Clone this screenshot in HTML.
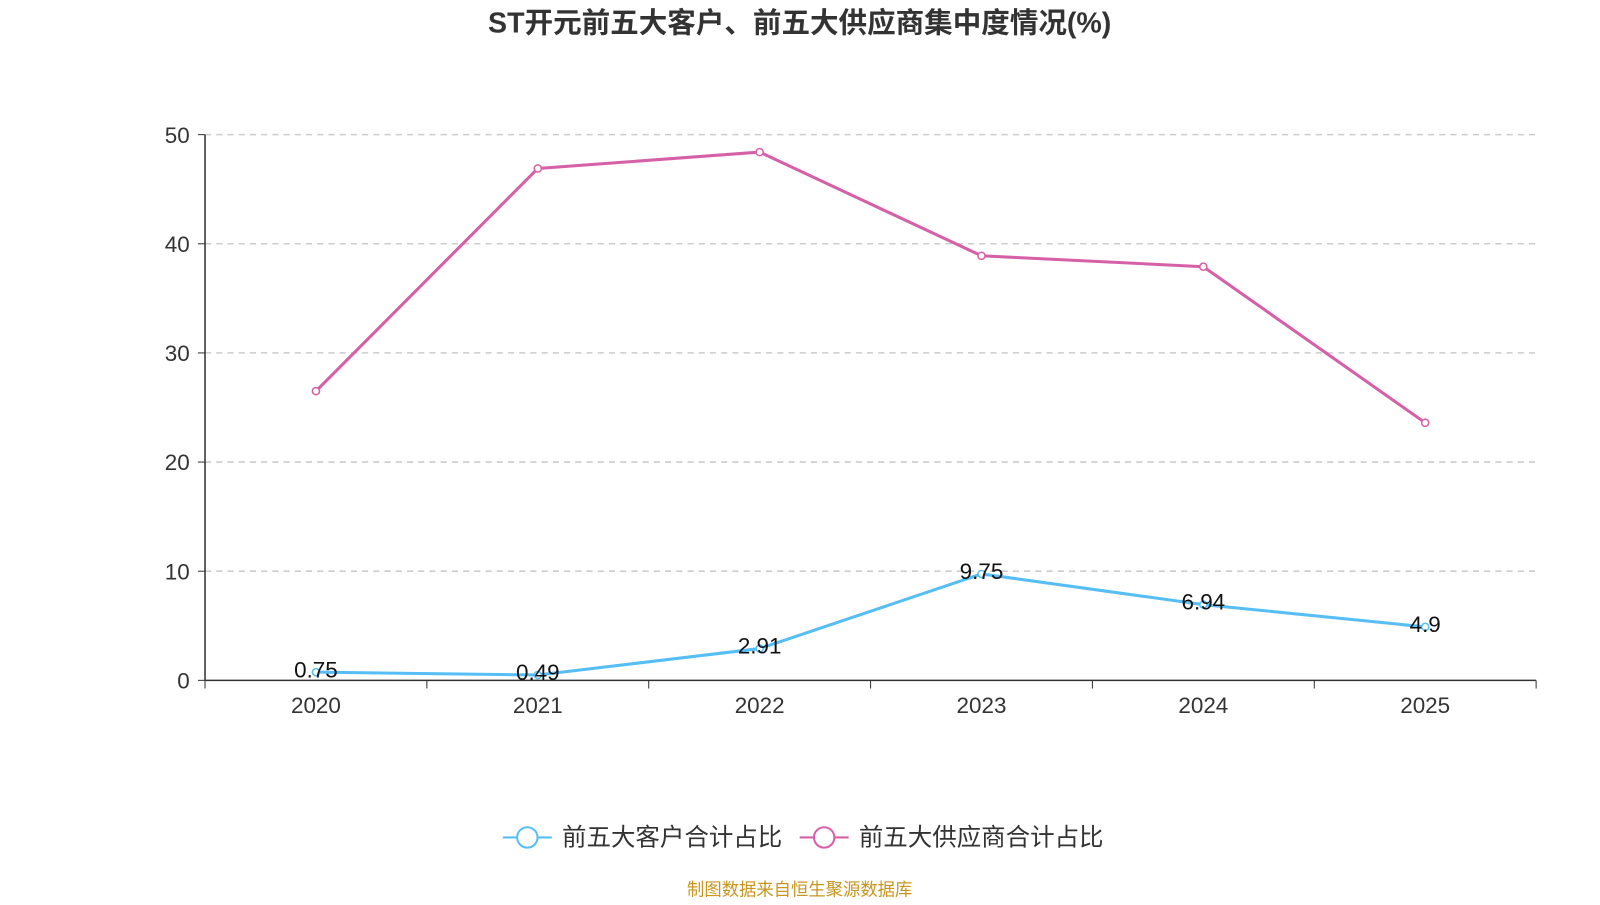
<!DOCTYPE html>
<html><head><meta charset="utf-8"><style>
body{margin:0;background:#fff;width:1600px;height:900px;overflow:hidden;font-family:"Liberation Sans","Noto Sans CJK SC",sans-serif;}
</style></head><body>
<svg width="1600" height="900" id="c" font-family="Liberation Sans, Noto Sans CJK SC, sans-serif">
<g transform="scale(1.02)">
<text x="784" y="32" text-anchor="middle" font-size="28" font-weight="bold" fill="#333">ST开元前五大客户、前五大供应商集中度情况(%)</text>
<g id="grid"></g><g id="axes"></g><g id="series"></g>
<g>
<g>
<line x1="493" y1="821" x2="541" y2="821" stroke="#56bef5" stroke-width="2"/>
<circle cx="517" cy="821" r="10" fill="#fff" stroke="#56bef5" stroke-width="2"/>
<text x="551" y="829" font-size="24" fill="#333">前五大客户合计占比</text></g>
<g>
<line x1="784" y1="821" x2="832" y2="821" stroke="#d660a8" stroke-width="2"/>
<circle cx="808" cy="821" r="10" fill="#fff" stroke="#d660a8" stroke-width="2"/>
<text x="842" y="829" font-size="24" fill="#333">前五大供应商合计占比</text></g>
</g>
<text x="784" y="878" text-anchor="middle" font-size="17" fill="#c8961e">制图数据来自恒生聚源数据库</text>
</g>
</svg>
<script>
const categories=["2020","2021","2022","2023","2024","2025"];
const customerValues=[0.75,0.49,2.91,9.75,6.94,4.9];
const supplierValues=[26.5,46.9,48.4,38.9,37.9,23.6];
const yTicks=[0,10,20,30,40,50];
const NS="http://www.w3.org/2000/svg";
const x0=201,x1=1506,y0=667,yTop=132,yMax=50;
const bw=(x1-x0)/categories.length;
const xs=i=>x0+bw*(i+0.5);
const ys=v=>y0-(v/yMax)*(y0-yTop);
function mk(tag,attrs,parent){const e=document.createElementNS(NS,tag);for(const k in attrs)e.setAttribute(k,attrs[k]);document.getElementById(parent).appendChild(e);return e;}
yTicks.forEach(t=>{
  const y=ys(t);
  if(t>0){const g=mk('line',{x1:x0,x2:x1,y1:y,y2:y,stroke:'#ccc','stroke-dasharray':'6,5','stroke-width':1.5},'grid');
  
  }
  const tk=mk('line',{x1:x0-7,x2:x0,y1:y,y2:y,stroke:'#333'},'axes');
  
  
  const l=mk('text',{x:x0-15,y:y+8,'text-anchor':'end','font-size':22,fill:'#333'},'axes');
  l.textContent=t;
  
  
});
const ya=mk('line',{x1:x0,x2:x0,y1:yTop,y2:y0,stroke:'#333','stroke-width':1.5},'axes');


const xa=mk('line',{x1:x0,x2:x1,y1:y0,y2:y0,stroke:'#333','stroke-width':1.5},'axes');


for(let i=0;i<=categories.length;i++){
  const t=mk('line',{x1:x0+bw*i,x2:x0+bw*i,y1:y0,y2:y0+8,stroke:'#333'},'axes');
  
  
}
categories.forEach((c,i)=>{
  const l=mk('text',{x:xs(i),y:y0+32,'text-anchor':'middle','font-size':22,fill:'#333'},'axes');
  l.textContent=c;
  
  
});
function drawSeries(vals,color,name,labels){
  const p=mk('polyline',{points:vals.map((v,i)=>xs(i)+','+ys(v)).join(' '),fill:'none',stroke:color,'stroke-width':3},'series');
  
  
  vals.forEach((v,i)=>{
    const c=mk('circle',{cx:xs(i),cy:ys(v),r:3.5,fill:'#fff',stroke:color,'stroke-width':1.5},'series');
    
    
    if(labels){
      const t=mk('text',{x:xs(i),y:ys(v)+5,'text-anchor':'middle','font-size':22,fill:'#111'},'series');
      t.textContent=v;
      
      
    }
  });
}
drawSeries(supplierValues,'#d660a8','supplier',false);
drawSeries(customerValues,'#56bef5','customer',true);
</script>
</body></html>
